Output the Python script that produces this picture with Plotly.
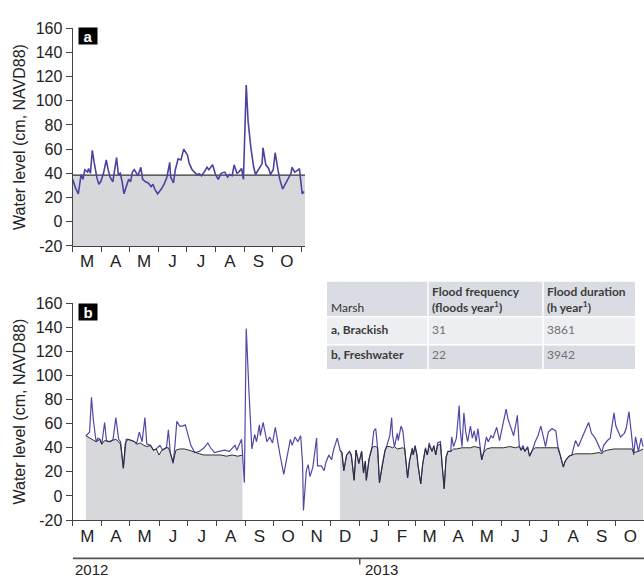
import plotly.graph_objects as go
import pandas as pd

# ---------------- DATA ----------------
# Panel a: brackish marsh water level (cm, NAVD88), 2012
a_dates = ["2012-03-01","2012-03-04","2012-03-07","2012-03-10","2012-03-12","2012-03-14","2012-03-17","2012-03-18",
           "2012-03-20","2012-03-22","2012-03-24","2012-03-27","2012-03-29","2012-03-31","2012-04-03","2012-04-06",
           "2012-04-08","2012-04-10","2012-04-13","2012-04-15","2012-04-17","2012-04-19","2012-04-21","2012-04-23",
           "2012-04-25","2012-04-27","2012-04-30","2012-05-02","2012-05-04","2012-05-06","2012-05-08","2012-05-10",
           "2012-05-13","2012-05-15","2012-05-18","2012-05-21","2012-05-24","2012-05-26","2012-05-28","2012-05-31",
           "2012-06-04","2012-06-07","2012-06-10","2012-06-13","2012-06-14","2012-06-17","2012-06-19","2012-06-22",
           "2012-06-25","2012-06-28","2012-07-02","2012-07-04","2012-07-07","2012-07-10","2012-07-12","2012-07-15",
           "2012-07-17","2012-07-20","2012-07-23","2012-07-25","2012-07-29","2012-08-01","2012-08-04","2012-08-07",
           "2012-08-11","2012-08-14","2012-08-16","2012-08-19","2012-08-21","2012-08-24","2012-08-26","2012-08-29",
           "2012-08-31","2012-09-03","2012-09-05","2012-09-08","2012-09-11","2012-09-13","2012-09-16","2012-09-20",
           "2012-09-21","2012-09-24","2012-09-27","2012-09-29","2012-10-02","2012-10-04","2012-10-07","2012-10-09",
           "2012-10-12","2012-10-15","2012-10-18","2012-10-21","2012-10-22","2012-10-25","2012-10-29","2012-10-30",
           "2012-11-02","2012-11-04"]
a_level = [35, 28, 23, 39, 35, 43, 41, 44,
           40, 59, 49, 36, 31, 33, 40, 51,
           43, 37, 33, 43, 53, 39, 40, 33,
           23, 28, 35, 33, 41, 43, 40, 38,
           45, 35, 33, 32, 29, 31, 27, 23,
           27, 31, 37, 49, 37, 32, 43, 52,
           51, 60, 55, 48, 43, 40, 39, 39.5,
           38, 41, 45, 43, 47, 39, 35, 40,
           41, 37, 39, 38, 47, 40, 41, 44,
           35, 113, 83, 61, 45, 39, 43, 48,
           61, 47, 44, 39, 43, 57, 43, 35,
           27, 31, 35, 40, 45, 41, 43, 44,
           23, 25]
a_marsh_elev = 38.5

# Panel b: freshwater marsh water level (blue), 2012-2013
b_dates = ["2012-03-15","2012-03-19","2012-03-21","2012-03-23","2012-03-26","2012-03-28","2012-03-30","2012-04-01",
           "2012-04-04","2012-04-06","2012-04-10","2012-04-13","2012-04-16","2012-04-19","2012-04-21","2012-04-24",
           "2012-04-27","2012-04-29","2012-05-03","2012-05-06","2012-05-08","2012-05-11","2012-05-14","2012-05-17",
           "2012-05-19","2012-05-23","2012-05-26","2012-05-29","2012-06-02","2012-06-05","2012-06-09","2012-06-11",
           "2012-06-13","2012-06-16","2012-06-18","2012-06-20","2012-06-23","2012-06-26","2012-06-29","2012-07-02",
           "2012-07-05","2012-07-09","2012-07-14","2012-07-19","2012-07-23","2012-07-26","2012-07-30","2012-08-04",
           "2012-08-10","2012-08-15","2012-08-21","2012-08-23","2012-08-28","2012-08-31","2012-09-02","2012-09-05",
           "2012-09-08","2012-09-11","2012-09-13","2012-09-16","2012-09-17","2012-09-20","2012-09-24","2012-09-27",
           "2012-09-30","2012-10-03","2012-10-06","2012-10-08","2012-10-12","2012-10-15","2012-10-19","2012-10-21",
           "2012-10-24","2012-10-27","2012-10-30","2012-11-01","2012-11-02","2012-11-05","2012-11-07","2012-11-09",
           "2012-11-12","2012-11-16","2012-11-17","2012-11-21","2012-11-24","2012-11-26","2012-11-29","2012-12-02",
           "2012-12-04","2012-12-08","2012-12-11","2012-12-13","2012-12-15","2012-12-18","2012-12-21","2012-12-23",
           "2012-12-26","2012-12-28","2012-12-31","2013-01-03","2013-01-05","2013-01-07","2013-01-08","2013-01-11",
           "2013-01-14","2013-01-16","2013-01-18","2013-01-20","2013-01-22","2013-01-25","2013-01-28","2013-01-30",
           "2013-02-02","2013-02-04","2013-02-05","2013-02-07","2013-02-10","2013-02-11","2013-02-14","2013-02-16",
           "2013-02-18","2013-02-19","2013-02-21","2013-02-23","2013-02-26","2013-02-27","2013-03-01","2013-03-03",
           "2013-03-04","2013-03-07","2013-03-09","2013-03-12","2013-03-14","2013-03-16","2013-03-19","2013-03-21",
           "2013-03-23","2013-03-25","2013-03-28","2013-03-30","2013-04-01","2013-04-03","2013-04-05","2013-04-08",
           "2013-04-09","2013-04-11","2013-04-14","2013-04-17","2013-04-18","2013-04-20","2013-04-22","2013-04-24",
           "2013-04-26","2013-04-29","2013-05-01","2013-05-03","2013-05-05","2013-05-07","2013-05-09","2013-05-11",
           "2013-05-13","2013-05-16","2013-05-18","2013-05-21","2013-05-23","2013-05-27","2013-05-30","2013-06-03",
           "2013-06-06","2013-06-08","2013-06-12","2013-06-14","2013-06-16","2013-06-18","2013-06-20","2013-06-22",
           "2013-06-24","2013-06-26","2013-06-29","2013-07-01","2013-07-04","2013-07-07","2013-07-10","2013-07-13",
           "2013-07-16","2013-07-18","2013-07-21","2013-07-25","2013-07-29","2013-07-31","2013-08-03","2013-08-06",
           "2013-08-08","2013-08-12","2013-08-15","2013-08-19","2013-08-22","2013-08-24","2013-08-28","2013-09-02",
           "2013-09-05","2013-09-09","2013-09-13","2013-09-16","2013-09-18","2013-09-22","2013-09-25","2013-09-29",
           "2013-10-01","2013-10-03","2013-10-06","2013-10-10","2013-10-12","2013-10-15","2013-10-18","2013-10-20",
           "2013-10-22","2013-10-25","2013-10-28","2013-10-30"]
b_level = [50, 53, 82, 63, 45, 48, 47, 43,
           61, 46, 45, 47, 65, 47, 45, 23,
           47, 47, 46, 45, 43, 53, 45, 65,
           43, 42, 38, 39, 42, 38, 40, 55,
           36, 27, 42, 62, 58, 58, 59, 50,
           42, 36, 37, 40, 44, 40, 36, 37,
           38, 37, 42, 38, 47, 11, 139, 85,
           39, 51, 45, 59, 50, 61, 45, 49,
           44, 57, 42, 34, 18, 32, 47, 42,
           49, 45, 50, 28, -12, 21, 26, 16,
           24, 48, 25, 25, 21, 28, 34, 30,
           38, 48, 38, 36, 21, 34, 37, 34,
           13, 38, 27, 37, 19, 29, 13, 31,
           40, 54, 56, 40, 11, 26, 38, 42,
           50, 65, 50, 41, 52, 46, 58, 54,
           40, 30, 15, 29, 40, 34, 42, 34,
           26, 10, 26, 40, 34, 44, 37, 42,
           34, 44, 45, 24, 6, 32, 37, 37,
           49, 41, 48, 75, 56, 41, 69, 53,
           45, 58, 48, 54, 45, 56, 42, 30,
           36, 49, 45, 50, 48, 57, 46, 61,
           72, 64, 54, 50, 58, 67, 42, 38,
           42, 37, 41, 33, 38, 45, 50, 58,
           48, 41, 53, 56, 54, 42, 33, 24,
           29, 33, 34, 46, 41, 45, 52, 61,
           52, 48, 41, 36, 42, 46, 48, 69,
           58, 54, 49, 52, 56, 70, 46, 34,
           49, 37, 48, 41]

# Panel b: marsh (black line + grey fill), two recorded periods
g1_dates = ["2012-03-15","2012-03-19","2012-03-23","2012-03-26","2012-03-30","2012-04-01","2012-04-04","2012-04-08",
            "2012-04-12","2012-04-16","2012-04-19","2012-04-21","2012-04-24","2012-04-26","2012-04-29","2012-05-03",
            "2012-05-06","2012-05-09","2012-05-12","2012-05-16","2012-05-19","2012-05-23","2012-05-26","2012-05-29",
            "2012-06-01","2012-06-04","2012-06-08","2012-06-11","2012-06-13","2012-06-16","2012-06-19","2012-06-23",
            "2012-06-28","2012-07-03","2012-07-09","2012-07-14","2012-07-19","2012-07-25","2012-07-31","2012-08-06",
            "2012-08-12","2012-08-18","2012-08-24","2012-08-29"]
g1_level = [50, 48, 46, 45, 47, 43, 46, 45,
            46, 47, 45, 43, 23, 44, 47, 46,
            45, 43, 44, 42, 41, 42, 38, 39,
            34, 38, 40, 40, 36, 28, 38, 39,
            39, 38, 36, 35, 34, 34, 34, 34,
            33, 34, 33, 34]
g2_dates = ["2012-12-11","2012-12-13","2012-12-15","2012-12-18","2012-12-21","2012-12-23","2012-12-26","2012-12-28",
            "2012-12-31","2013-01-03","2013-01-05","2013-01-07","2013-01-08","2013-01-11","2013-01-14","2013-01-16",
            "2013-01-18","2013-01-20","2013-01-22","2013-01-25","2013-01-28","2013-01-30","2013-02-02","2013-02-05",
            "2013-02-07","2013-02-10","2013-02-14","2013-02-16","2013-02-18","2013-02-19","2013-02-21","2013-02-23",
            "2013-02-26","2013-02-27","2013-03-01","2013-03-03","2013-03-04","2013-03-07","2013-03-09","2013-03-12",
            "2013-03-14","2013-03-16","2013-03-19","2013-03-21","2013-03-23","2013-03-25","2013-03-28","2013-03-30",
            "2013-04-01","2013-04-03","2013-04-05","2013-04-08","2013-04-11","2013-04-14","2013-04-18","2013-04-20",
            "2013-04-24","2013-04-29","2013-05-03","2013-05-07","2013-05-09","2013-05-11","2013-05-13","2013-05-16",
            "2013-05-21","2013-05-27","2013-06-03","2013-06-10","2013-06-16","2013-06-20","2013-06-22","2013-06-24",
            "2013-06-26","2013-06-29","2013-07-01","2013-07-04","2013-07-07","2013-07-13","2013-07-18","2013-07-25",
            "2013-07-31","2013-08-03","2013-08-06","2013-08-08","2013-08-12","2013-08-15","2013-08-19","2013-08-24",
            "2013-08-30","2013-09-05","2013-09-13","2013-09-16","2013-09-18","2013-09-22","2013-09-29","2013-10-06",
            "2013-10-12","2013-10-18","2013-10-20","2013-10-25","2013-10-30"]
g2_level = [38, 36, 21, 34, 37, 34, 13, 38,
            27, 37, 19, 29, 13, 31, 40, 41,
            41, 40, 11, 26, 38, 41, 41, 40,
            41, 39, 40, 40, 39, 30, 15, 29,
            39, 34, 41, 34, 26, 10, 26, 39,
            34, 42, 37, 41, 34, 42, 43, 24,
            6, 32, 37, 37, 39, 39, 40, 40,
            40, 40, 41, 40, 40, 30, 36, 39,
            40, 40, 40, 41, 40, 41, 38, 40,
            37, 40, 33, 38, 40, 40, 40, 40,
            40, 33, 24, 29, 33, 34, 35, 35,
            35, 35, 36, 35, 37, 38, 39, 39,
            39, 39, 36, 37, 39]

month_letters = ["J", "F", "M", "A", "M", "J", "J", "A", "S", "O", "N", "D"]
year_labels = ["2012", "2013"]
y_ticks = list(range(-20, 161, 20))
y_ticktext = [str(v) for v in y_ticks]

table_header = ["Marsh", "Flood frequency", "Flood duration"]
table_units = ["", "(floods year<sup>1</sup>)", "(h year<sup>1</sup>)"]
table_marsh = ["a, Brackish", "b, Freshwater"]
table_freq = ["31", "22"]
table_dur = ["3861", "3942"]

# ---------------- LAYOUT HELPERS ----------------
W, H = 644, 588
Y_MIN, Y_MAX = -20, 160
A_START, A_END = "2012-03-01", "2012-11-05"
B_START, B_END = "2012-03-01", "2013-10-31"
BLUE = "#4a44a0"
GREY = "#d6d8db"
DARK = "#333333"
FONT = "Liberation Sans, Arial, sans-serif"
TFONT = "Lato, Open Sans, sans-serif"

def fx(p):
    return p / W

def fy(p):
    return 1 - p / H

def month_ticks(start, end):
    starts = pd.date_range(start, end, freq="MS")
    mids, labels = [], []
    for s in starts:
        e = s + pd.offsets.MonthBegin(1)
        if e > pd.Timestamp(end) + pd.Timedelta(days=3):
            continue
        mids.append(s + (e - s) / 2)
        labels.append(month_letters[s.month - 1])
    return mids, labels

a_mids, a_labels = month_ticks(A_START, A_END)
b_mids, b_labels = month_ticks(B_START, "2013-11-01")

fig = go.Figure()

# Panel a
fig.add_trace(go.Scatter(x=[A_START, A_END, A_END, A_START],
                         y=[a_marsh_elev, a_marsh_elev, Y_MIN, Y_MIN],
                         fill="toself", fillcolor=GREY, line=dict(width=0),
                         mode="lines", hoverinfo="skip", showlegend=False,
                         xaxis="x", yaxis="y"))
fig.add_trace(go.Scatter(x=[A_START, A_END], y=[a_marsh_elev, a_marsh_elev],
                         mode="lines", line=dict(color=DARK, width=1.2),
                         showlegend=False, xaxis="x", yaxis="y"))
fig.add_trace(go.Scatter(x=a_dates, y=a_level, mode="lines",
                         line=dict(color=BLUE, width=1.6),
                         showlegend=False, xaxis="x", yaxis="y"))

# Panel b
for gd, gl in [(g1_dates, g1_level), (g2_dates, g2_level)]:
    fig.add_trace(go.Scatter(x=gd + [gd[-1], gd[0]], y=gl + [Y_MIN, Y_MIN],
                             fill="toself", fillcolor=GREY, line=dict(width=0),
                             mode="lines", hoverinfo="skip", showlegend=False,
                             xaxis="x2", yaxis="y2"))
fig.add_trace(go.Scatter(x=b_dates, y=b_level, mode="lines",
                         line=dict(color="#5048a8", width=1.2),
                         showlegend=False, xaxis="x2", yaxis="y2"))
for gd, gl in [(g1_dates, g1_level), (g2_dates, g2_level)]:
    fig.add_trace(go.Scatter(x=gd, y=gl, mode="lines",
                             line=dict(color="#2e2e2e", width=1.0),
                             showlegend=False, xaxis="x2", yaxis="y2"))

xcommon = dict(type="date", showline=True, linecolor="#444", linewidth=1.2,
               showgrid=False, zeroline=False,
               ticks="", ticklen=0,
               tickfont=dict(size=17, color="#222", family=FONT),
               minor=dict(ticks="outside", ticklen=5, tickcolor="#444", tickwidth=1.2,
                          dtick="M1", tick0="2012-03-01", showgrid=False))
ycommon = dict(range=[Y_MIN, Y_MAX], tickvals=y_ticks, ticktext=y_ticktext,
               showline=True, linecolor="#444",
               linewidth=1.2, ticks="outside", ticklen=6, tickcolor="#444",
               showgrid=False, zeroline=False,
               tickfont=dict(size=16, color="#222", family=FONT),
               title=dict(text="Water level (cm, NAVD88)", standoff=6,
                          font=dict(size=16, color="#222", family=FONT)))

fig.update_layout(
    width=W, height=H, margin=dict(l=0, r=0, t=0, b=0),
    paper_bgcolor="white", plot_bgcolor="rgba(0,0,0,0)",
    xaxis=dict(xcommon, domain=[fx(72.7), fx(305)], range=[A_START, A_END],
               tickvals=a_mids, ticktext=a_labels, anchor="y"),
    yaxis=dict(ycommon, domain=[fy(245), fy(20.7)], anchor="x"),
    xaxis2=dict(xcommon, domain=[fx(72.7), 1.0], range=[B_START, B_END],
                tickvals=b_mids, ticktext=b_labels, anchor="y2"),
    yaxis2=dict(ycommon, domain=[fy(527.3), fy(304)], anchor="x2"),
)

annotations = []
shapes = []
# panel labels
for lab, ytop in [("a", 29), ("b", 313)]:
    annotations.append(dict(text="<b>%s</b>" % lab, xref="paper", yref="paper",
                            x=fx(88), y=fy(ytop), xanchor="center", yanchor="middle",
                            showarrow=False, bgcolor="black", width=16, height=14,
                            font=dict(color="white", size=15, family=FONT)))

# year bar
shapes.append(dict(type="line", xref="x2", yref="paper", x0=B_START, x1=B_END,
                   y0=fy(566.7), y1=fy(566.7), line=dict(color="#555", width=1.8)))
shapes.append(dict(type="line", xref="x2", yref="paper", x0="2013-01-01", x1="2013-01-01",
                   y0=fy(566.7), y1=fy(573), line=dict(color="#555", width=1.5)))
annotations.append(dict(text=year_labels[0], xref="x2", yref="paper", x=B_START, y=fy(578.5),
                        xanchor="left", yanchor="middle", showarrow=False,
                        font=dict(size=15, color="#222", family=FONT)))
annotations.append(dict(text=year_labels[1], xref="x2", yref="paper", x="2013-01-01", y=fy(578.5),
                        xanchor="left", yanchor="middle", xshift=3, showarrow=False,
                        font=dict(size=15, color="#222", family=FONT)))

# table
cols = [327, 428, 543, 635]
rows = [282, 318, 346.7, 371.7]
row_fill = ["#d9dce2", "#eceef2", "#d9dce2"]
for r in range(3):
    shapes.append(dict(type="rect", xref="paper", yref="paper", x0=fx(cols[0]), x1=fx(cols[3]),
                       y0=fy(rows[r + 1]), y1=fy(rows[r]), fillcolor=row_fill[r],
                       line=dict(width=0), layer="below"))
for c in cols[1:3]:
    shapes.append(dict(type="line", xref="paper", yref="paper", x0=fx(c), x1=fx(c),
                       y0=fy(rows[3]), y1=fy(rows[0]), line=dict(color="white", width=1.5)))
for r in rows[1:3]:
    shapes.append(dict(type="line", xref="paper", yref="paper", x0=fx(cols[0]), x1=fx(cols[3]),
                       y0=fy(r), y1=fy(r), line=dict(color="white", width=1.5)))

def tcell(text, col, ycen, bold=False, color="#3c3c3c"):
    annotations.append(dict(text=("<b>%s</b>" % text) if bold else text, xref="paper", yref="paper",
                            x=fx(cols[col] + 2), y=fy(ycen), xanchor="left", yanchor="middle",
                            showarrow=False, font=dict(size=12, color=color, family=TFONT)))

tcell(table_header[0], 0, 308, bold=False, color="#333")
tcell(table_header[1], 1, 292, bold=True)
tcell(table_units[1], 1, 307.5, bold=True)
tcell(table_header[2], 2, 292, bold=True)
tcell(table_units[2], 2, 307.5, bold=True)
for i, ycen in enumerate([331, 357]):
    tcell(table_marsh[i], 0, ycen, bold=True)
    tcell(table_freq[i], 1, ycen, color="#707070")
    tcell(table_dur[i], 2, ycen, color="#707070")

fig.update_layout(annotations=annotations, shapes=shapes)
fig.write_html("out.html",
               post_script="document.body.style.margin='0';document.body.style.padding='0';")
